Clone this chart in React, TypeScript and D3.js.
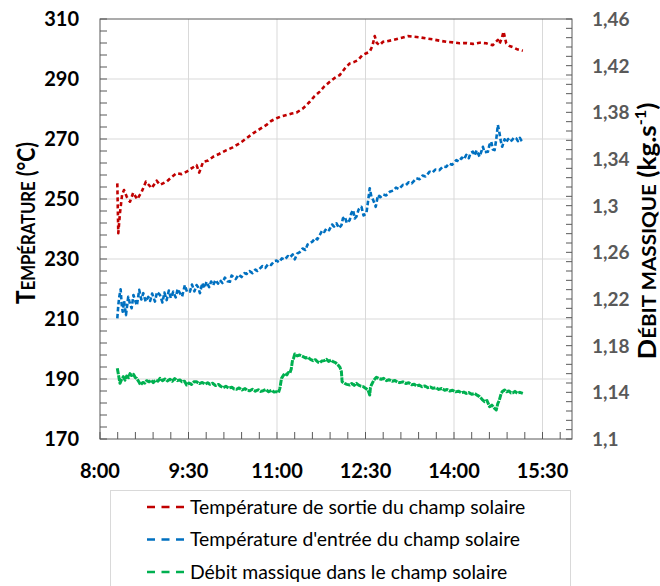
import React from "react";
import * as d3 from "d3";

// time in minutes since midnight, temperature in °C, mass flow in kg/s
const sortieData: [number, number][] = [
  [497.6, 255.2], [498.6, 238.6], [500.3, 245.3], [502.5, 251.5], [504.4, 253], [507.1, 250.8],
  [510.5, 249.1], [513.8, 252.1], [517.9, 249.9], [522.4, 252.4], [526.7, 255.8], [532.5, 253.6],
  [537.6, 256.1], [541, 254.7], [547.8, 255.8], [552.5, 257.2], [557.9, 258.6], [563, 258.3],
  [568.1, 259.1], [573, 260.2], [578.2, 261.3], [580.9, 258.8], [584.9, 262.4], [590, 262.8],
  [595.1, 264.1], [601, 265], [608.7, 266.3], [615, 267.2], [622.2, 268.6], [628, 270],
  [635.7, 271.9], [642, 273.2], [649.3, 274.7], [654, 276], [659.5, 276.9], [664, 277.5],
  [669.7, 278], [675, 278.5], [679.8, 278.8], [686.5, 280.2], [693.3, 282.4], [698, 284.2],
  [703.5, 285.8], [708, 287.5], [713.7, 289.1], [718, 290.2], [723.8, 291.3], [729, 293.5],
  [734, 295.2], [738, 295.6], [742.4, 296.3], [747, 298], [750.9, 298.6], [754.3, 299.1],
  [757, 301], [759.4, 304.3], [761.5, 302], [764.4, 301.3], [767.8, 302.4], [772, 302.6],
  [778, 303], [785, 303.6], [793.2, 304.3], [799, 304.1], [805.1, 303.9], [812, 303.5],
  [818.6, 303.2], [825, 302.8], [832.2, 302.4], [839, 302.2], [845.7, 301.9], [852, 302],
  [859.2, 301.7], [866, 302.1], [872.8, 301.9], [876, 301.5], [879.5, 301.3], [882, 302.2],
  [884.6, 303], [886.3, 301.7], [888.5, 303.5], [890.4, 305.8], [893.1, 301.9], [896.5, 301],
  [899.9, 300.6], [905, 299.8], [910, 299.4],
];

const entreeData: [number, number][] = [
  [497.6, 210.2], [498.6, 214.5], [499.6, 217.4], [501, 219.9], [502, 215], [503.1, 212.4],
  [504.5, 216], [506.4, 211.3], [508.7, 217.4], [510.5, 215], [512.2, 213.6], [514, 218],
  [515.6, 216.3], [517.5, 214.5], [519.9, 219.7], [522, 216.5], [524, 218.6], [526.5, 215.8],
  [529.1, 217.4], [531, 216], [533, 218.5], [535.9, 215.8], [538, 219], [541, 218],
  [543.5, 215.5], [545.5, 218.8], [547.8, 216.3], [550, 219.5], [552, 217], [554.5, 219.1],
  [557, 217.2], [559, 220], [561.3, 218.6], [563.5, 217.5], [566.3, 221.3], [568.5, 219],
  [571.4, 219.1], [573.5, 221.5], [576, 219.2], [578.2, 221.3], [580, 220.5], [581.6, 218.6],
  [584, 222], [586, 220.3], [588.4, 222.4], [591, 220.6], [593, 222.5], [595.1, 221.3],
  [597.5, 223], [600, 221.8], [601.9, 223], [604.5, 222], [607, 223.8], [609.5, 222.6],
  [612.1, 222.4], [613.8, 224.5], [615.4, 224.1], [618, 223.3], [621, 224.8], [624, 224],
  [627, 225.3], [629, 225], [632, 226], [635, 225.3], [638, 226.5], [640, 226],
  [642.5, 226.8], [645, 227.6], [648, 227], [651, 228.3], [654, 228], [657, 229.3],
  [659.5, 229.5], [662, 228.9], [665, 230.2], [668, 229.8], [671, 231], [673, 230.5],
  [676, 231.5], [678.1, 229.9], [680.5, 231.8], [683.2, 232.3], [686, 233.5], [689, 233],
  [691, 234.8], [693.3, 235.2], [696, 235.8], [699, 237], [701, 236.5], [703.5, 238],
  [706, 239.5], [708, 239], [710.3, 240.2], [713, 239.6], [716, 241.5], [718, 240.8],
  [720.5, 241.9], [723, 240.3], [725.6, 241.3], [727, 243.5], [728.9, 244.1], [731, 242],
  [734, 243], [735.5, 245.2], [737.4, 246.3], [739, 243.5], [740.8, 244.1], [743, 246.5],
  [745.9, 247.4], [748, 244.5], [750.9, 245.2], [752.5, 249], [754.3, 253.6], [756, 250.8],
  [758, 249.5], [760.4, 247.4], [762.7, 251.3], [765, 250.6], [768, 251.5], [771, 251.2],
  [774.6, 252.4], [778, 252.8], [781, 253.8], [784, 253.3], [788.1, 254.7], [791, 254.6],
  [794, 255.6], [797, 255.2], [801.7, 256.9], [805, 256.6], [808, 257.8], [811, 257.5],
  [815.2, 259.1], [818, 258.8], [821, 259.8], [825, 259.6], [828.8, 260.8], [832, 260.7],
  [835, 261.8], [838, 261.4], [842.4, 263], [845, 262.5], [848, 263.8], [850, 263.2],
  [852.5, 264.7], [855, 263.6], [857, 265.4], [859.2, 265.8], [861, 264.5], [863, 266.2],
  [866, 264.1], [868, 266], [869.4, 267.4], [871, 265.6], [874.5, 265.8], [876, 268],
  [877.9, 269.1], [879.5, 266.5], [881.3, 266.3], [883, 270], [884.6, 274.7], [886.3, 271.9],
  [887.5, 269.5], [889, 267.4], [891.4, 269.9], [893, 268.8], [895, 270], [896.5, 269.1],
  [899, 269.6], [901, 270.5], [903.3, 270.2], [905, 269.3], [907, 270.4], [908.5, 269.5],
  [910, 268.9],
];

const debitData: [number, number][] = [
  [497.6, 1.1606], [498.8, 1.155], [500.3, 1.1477], [502, 1.151], [503.7, 1.1534], [505.5, 1.1505],
  [507.1, 1.154], [509, 1.1525], [510.5, 1.156], [512.2, 1.1545], [514, 1.1555], [516, 1.1525],
  [517.3, 1.152], [519.5, 1.149], [521.3, 1.1463], [523.5, 1.1485], [525.5, 1.1478], [527.4, 1.15],
  [530, 1.149], [532, 1.1505], [534.1, 1.1483], [536.5, 1.1505], [539, 1.1495], [541, 1.152],
  [543.5, 1.15], [546, 1.1515], [548.5, 1.1498], [551.1, 1.1512], [553.5, 1.1495], [556, 1.1518],
  [558.5, 1.15], [561.3, 1.1506], [563.5, 1.149], [566, 1.1495], [568.1, 1.1463], [570.5, 1.148],
  [573, 1.1468], [575.5, 1.149], [578.2, 1.1491], [581, 1.1475], [584, 1.1485], [587, 1.147],
  [589.5, 1.1482], [591.7, 1.1469], [594.5, 1.1478], [597.5, 1.1458], [600.5, 1.1468], [603, 1.145],
  [605.3, 1.144], [608, 1.1452], [611, 1.1436], [614, 1.1444], [616.5, 1.1428], [618.9, 1.1426],
  [621.5, 1.1438], [624.5, 1.142], [627.5, 1.1432], [630, 1.1415], [632.4, 1.1414], [635, 1.1426],
  [638, 1.141], [641, 1.1422], [643.5, 1.1408], [645.9, 1.1414], [648.5, 1.1424], [651.5, 1.1405],
  [654.5, 1.1418], [657, 1.1402], [659.5, 1.1406], [661.5, 1.1398], [662.9, 1.1434], [664.6, 1.152],
  [666.5, 1.1545], [667.9, 1.1563], [670, 1.155], [671.5, 1.157], [673, 1.1563], [674.5, 1.16],
  [675.8, 1.1677], [676.8, 1.169], [678.1, 1.1729], [680.5, 1.1712], [683, 1.172], [686.5, 1.1706],
  [689, 1.1695], [691.5, 1.17], [694, 1.1682], [696.7, 1.1671], [699, 1.168], [701.5, 1.166],
  [703.5, 1.1654], [705.5, 1.1668], [708, 1.1672], [710.3, 1.1683], [712.5, 1.1665], [715, 1.1676],
  [717, 1.1663], [719.5, 1.1655], [722.1, 1.1634], [724, 1.1615], [725.5, 1.1577], [726.2, 1.1491],
  [728.5, 1.1478], [731, 1.1468], [734, 1.1463], [736, 1.1475], [738.5, 1.146], [740.8, 1.1477],
  [743, 1.1462], [745.5, 1.1452], [747.5, 1.1449], [750, 1.1435], [752.6, 1.142], [754.3, 1.1377],
  [755, 1.144], [756, 1.1463], [758.5, 1.1505], [761.1, 1.1529], [763.5, 1.1518], [766, 1.1512],
  [768.5, 1.152], [771.3, 1.15], [774, 1.1508], [777, 1.1495], [780, 1.1502], [782.5, 1.1488],
  [784.8, 1.1483], [788, 1.149], [791, 1.1476], [794, 1.1482], [797, 1.1465], [799.5, 1.147],
  [801.7, 1.1454], [804.5, 1.1462], [807.5, 1.1448], [810.5, 1.1455], [813.5, 1.144], [816, 1.1446],
  [818.6, 1.1434], [821.5, 1.144], [824.5, 1.1425], [827.5, 1.1433], [830.5, 1.1418], [833, 1.1424],
  [835.6, 1.1411], [838.5, 1.1418], [841.5, 1.1404], [844.5, 1.141], [847.5, 1.1396], [850, 1.1402],
  [852.5, 1.1391], [855, 1.1398], [858, 1.1384], [861, 1.139], [863.5, 1.1376], [866, 1.1363],
  [868.5, 1.134], [871.1, 1.132], [873.5, 1.133], [876.2, 1.1277], [878.5, 1.129], [881, 1.1265],
  [883, 1.1249], [884.6, 1.1306], [886, 1.133], [888, 1.1391], [889.5, 1.141], [891.4, 1.142],
  [893.5, 1.1405], [896, 1.1412], [898, 1.1395], [899.9, 1.1397], [902, 1.1408], [904.5, 1.1392],
  [907, 1.14], [910, 1.1391],
];

const xMajorTicks = [480, 570, 660, 750, 840, 930];
const leftMajorTicks = [170, 190, 210, 230, 250, 270, 290, 310];
const rightMajorTicks = [1.1, 1.14, 1.18, 1.22, 1.26, 1.3, 1.34, 1.38, 1.42, 1.46];
const legendLabels = [
  "Température de sortie du champ solaire",
  "Température d'entrée du champ solaire",
  "Débit massique dans le champ solaire",
];
const seriesColors = ["#c00000", "#0070c0", "#00b050"];

const W = 660;
const H = 586;
const L = 100, R = 572, T = 19, B = 439;

const fmtTime = (m: number) => `${Math.floor(m / 60)}:${String(m % 60).padStart(2, "0")}`;
const fmtRight = (v: number) => String(+v.toFixed(2)).replace(".", ",");

export default function App() {
  const x = d3.scaleLinear().domain([480, 960]).range([L, R]);
  const yL = d3.scaleLinear().domain([170, 310]).range([B, T]);
  const yR = d3.scaleLinear().domain([1.1, 1.46]).range([B, T]);

  const lineL = d3.line<[number, number]>().x((d) => x(d[0])).y((d) => yL(d[1]));
  const lineR = d3.line<[number, number]>().x((d) => x(d[0])).y((d) => yR(d[1]));

  const xMinor = d3.range(480, 961, 18);
  const leftMinor = d3.range(170, 310.01, 4);
  const rightMinor = d3.range(0, 46).map((i) => 1.1 + i * 0.008);

  const axisColor = "#595959";
  const gridColor = "#d9d9d9";
  const font = "Lato, 'Open Sans', sans-serif";

  return (
    <svg width={W} height={H} style={{ position: "absolute", left: 0, top: 0, background: "#fff" }}
      fontFamily={font}>
      {/* gridlines */}
      {leftMajorTicks.slice(1, -1).map((v) => (
        <line key={"gh" + v} x1={L} x2={R} y1={yL(v)} y2={yL(v)} stroke={gridColor} strokeWidth={1} />
      ))}
      {xMajorTicks.slice(1).map((m) => (
        <line key={"gv" + m} x1={x(m)} x2={x(m)} y1={T} y2={B} stroke={gridColor} strokeWidth={1} />
      ))}

      {/* series */}
      <path d={lineR(debitData) || ""} fill="none" stroke={seriesColors[2]} strokeWidth={3}
        strokeDasharray="6,1" strokeLinejoin="round" />
      <path d={lineL(entreeData) || ""} fill="none" stroke={seriesColors[1]} strokeWidth={2.6}
        strokeDasharray="4.5,2.5" strokeLinejoin="round" />
      <path d={lineL(sortieData) || ""} fill="none" stroke={seriesColors[0]} strokeWidth={2.6}
        strokeDasharray="4,3" strokeLinejoin="round" />

      {/* frame */}
      <rect x={L} y={T} width={R - L} height={B - T} fill="none" stroke={axisColor} strokeWidth={1} />

      {/* ticks */}
      {xMinor.map((m) => (
        <line key={"tx" + m} x1={x(m)} x2={x(m)} y1={B} y2={B - 7} stroke={axisColor} strokeWidth={1} />
      ))}
      {leftMinor.map((v) => (
        <line key={"tl" + v} x1={L} x2={L + 7} y1={yL(v)} y2={yL(v)} stroke={axisColor} strokeWidth={1} />
      ))}
      {rightMinor.map((v, i) => (
        <line key={"tr" + i} x1={R} x2={R - 6} y1={yR(v)} y2={yR(v)} stroke={axisColor} strokeWidth={1} />
      ))}

      {/* tick labels */}
      {xMajorTicks.map((m) => (
        <text key={"lx" + m} x={x(m)} y={478} textAnchor="middle" fontSize={20} fontWeight="bold" fill="#000">
          {fmtTime(m)}
        </text>
      ))}
      {leftMajorTicks.map((v) => (
        <text key={"ll" + v} x={79} y={yL(v)} dy="0.36em" textAnchor="end" fontSize={20} fontWeight="bold" fill="#000">
          {v}
        </text>
      ))}
      {rightMajorTicks.map((v) => (
        <text key={"lr" + v} x={592} y={yR(v)} dy="0.36em" textAnchor="start" fontSize={19} fontWeight="bold" fill={axisColor}>
          {fmtRight(v)}
        </text>
      ))}

      {/* axis titles */}
      <text transform="translate(35,223) rotate(-90)" textAnchor="middle" fontWeight="bold" fill="#000"
        textLength={162} lengthAdjust="spacingAndGlyphs">
        <tspan fontSize={26}>T</tspan>
        <tspan fontSize={19}>EMPÉRATURE</tspan>
        <tspan fontSize={24}> (°C)</tspan>
      </text>
      <text transform="translate(656,231) rotate(-90)" textAnchor="middle" fontWeight="bold" fill="#000"
        textLength={257} lengthAdjust="spacingAndGlyphs">
        <tspan fontSize={25}>D</tspan>
        <tspan fontSize={19}>ÉBIT MASSIQUE</tspan>
        <tspan fontSize={24}> (kg.s</tspan>
        <tspan fontSize={15} dy={-10}>-1</tspan>
        <tspan fontSize={24} dy={10}>)</tspan>
      </text>

      {/* legend */}
      <rect x={110.5} y={490.5} width={460} height={110} fill="#fff" stroke={gridColor} strokeWidth={1} />
      {legendLabels.map((lab, i) => {
        const cy = 507 + i * 32.5;
        return (
          <g key={lab}>
            <line x1={147} x2={187} y1={cy} y2={cy} stroke={seriesColors[i]} strokeWidth={2.4}
              strokeDasharray="8,6.5" />
            <text x={190} y={cy} dy="0.35em" fontSize={19.4} fill="#000">{lab}</text>
          </g>
        );
      })}
    </svg>
  );
}
